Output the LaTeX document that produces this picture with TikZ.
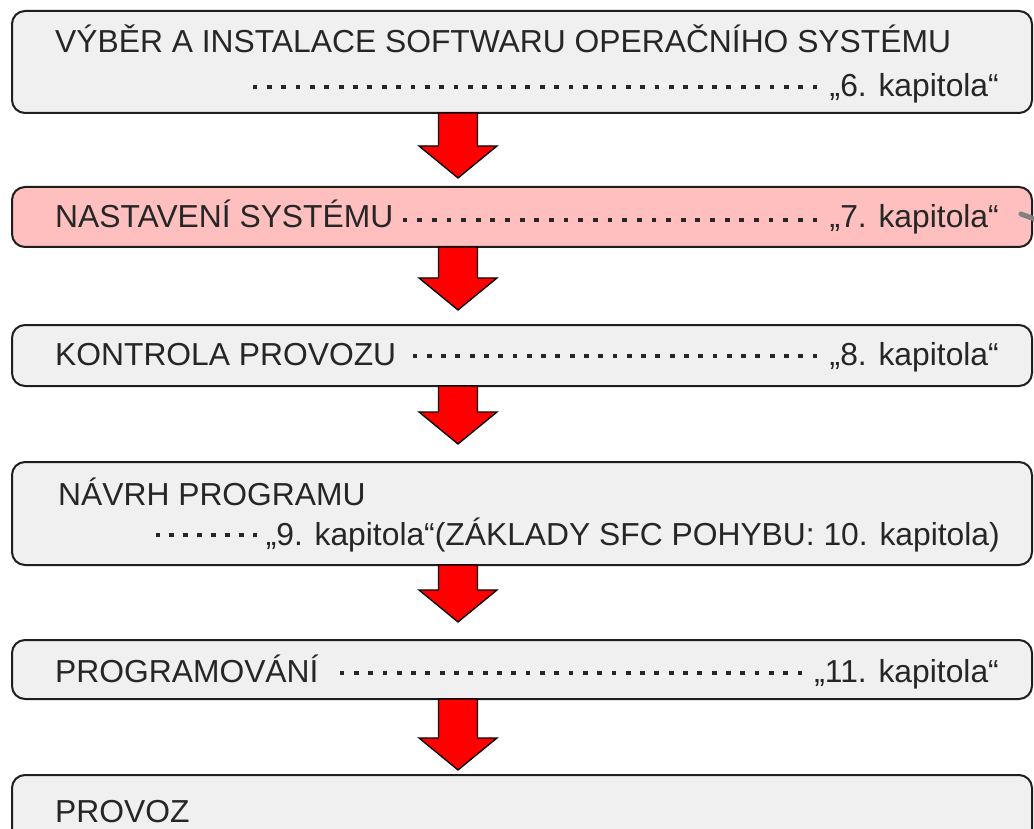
\documentclass[tikz,border=0pt]{standalone}
\usepackage{fontspec}
\setmainfont{Liberation Sans}
\usetikzlibrary{calc}
\definecolor{boxgray}{HTML}{F0F0F0}
\definecolor{boxpink}{HTML}{FFBFBF}
\definecolor{txt}{HTML}{262626}
\definecolor{edge}{HTML}{1E1E1E}
\definecolor{arrred}{HTML}{FF0000}
\tikzset{
  stepbox/.style={draw=edge, line width=2pt, rounded corners=13pt, fill=boxgray,
    minimum width=1020pt, anchor=north west, inner sep=0pt, outer sep=0pt},
  pinkbox/.style={stepbox, fill=boxpink},
  lbl/.style={anchor=base west, inner sep=0pt, text=txt, font=\fontsize{31.8}{36}\selectfont},
  rlbl/.style={lbl, anchor=base east},
  blockarr/.style={draw=black, line width=1.3pt, fill=arrred, line join=miter},
}
% dot leader: y, x0, x1, number of intervals
\newcommand\dotrow[4]{%
  \pgfmathsetmacro\dstep{(#3-#2)/#4}%
  \foreach \i in {0,...,#4}{%
    \fill[txt] ({#2+\i*\dstep-2.4},{#1-2.4}) rectangle ++(4.8,4.8);
  }}
% block arrow between two boxes: from, to, gap between tip and next box
\newcommand\blockarrow[3]{%
  \draw[blockarr] let \p1=(#1.south), \p2=(#2.north) in
    (438.5pt,\y1) -- (477.5pt,\y1) -- (477.5pt,\y2+#3pt+32pt) -- (497pt,\y2+#3pt+32pt)
    -- (458pt,\y2+#3pt) -- (419pt,\y2+#3pt+32pt) -- (438.5pt,\y2+#3pt+32pt) -- cycle;}
\begin{document}
\begin{tikzpicture}[x=1pt,y=-1pt]
\useasboundingbox (0,0) rectangle (1034,829);
\clip (0,0) rectangle (1034,829);
% boxes
\node[stepbox, minimum height=102pt] (b1) at (12,11) {};
\node[pinkbox, minimum height=60pt] (b2) at (12,187) {};
\node[stepbox, minimum height=61pt] (b3) at (12,325) {};
\node[stepbox, minimum height=103pt] (b4) at (12,462) {};
\node[stepbox, minimum height=59pt] (b5) at (12,640) {};
\node[stepbox, minimum height=110pt] (b6) at (12,775) {};
% arrows
\blockarrow{b1}{b2}{9}
\blockarrow{b2}{b3}{15}
\blockarrow{b3}{b4}{18}
\blockarrow{b4}{b5}{18}
\blockarrow{b5}{b6}{5}
% texts
\node[lbl] (t1) at (55,53) {VÝBĚR A INSTALACE SOFTWARU OPERAČNÍHO SYSTÉMU};
\dotrow{87}{255}{815}{39}
\node[rlbl] (k1) at (999,97) {„6. kapitola“};
\node[lbl] (t2) at (55,228) {NASTAVENÍ SYSTÉMU};
\dotrow{220}{405}{815}{28}
\node[rlbl] (k2) at (999,228) {„7. kapitola“};
\node[lbl] (t3) at (55,365) {KONTROLA PROVOZU};
\dotrow{356}{415}{815}{28}
\node[rlbl] (k3) at (999,365) {„8. kapitola“};
\node[lbl] (t4) at (58,505) {NÁVRH PROGRAMU};
\dotrow{535}{158}{255}{7}
\node[rlbl] (k4) at (1000,545) {„9. kapitola“(ZÁKLADY SFC POHYBU: 10. kapitola)};
\node[lbl] (t5) at (55,682) {PROGRAMOVÁNÍ};
\dotrow{673}{342}{800}{32}
\node[rlbl] (k5) at (999,682) {„11. kapitola“};
\node[lbl] (t6) at (55,822) {PROVOZ};
% cut-off grey mark at right edge
\coordinate (g1) at (1021,214);
\coordinate (g2) at (1040,221);
\draw[gray, line width=5pt, line cap=round] (g1) -- (g2);
\end{tikzpicture}
\end{document}
